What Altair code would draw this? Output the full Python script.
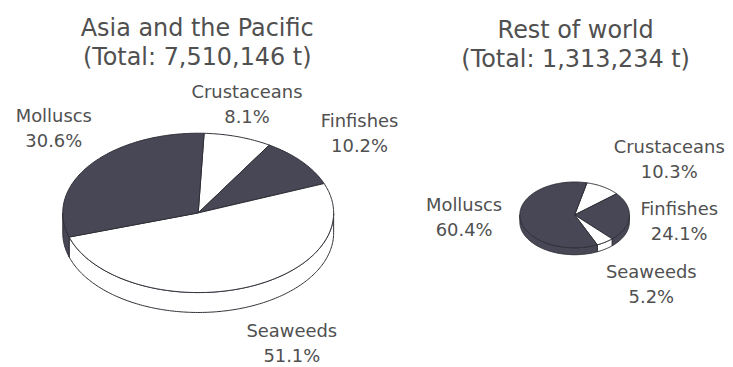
import math
import altair as alt
import pandas as pd

# ---------------- data ----------------
regions = ["Asia and the Pacific", "Rest of world"]
totals = ["7,510,146", "1,313,234"]
categories = ["Crustaceans", "Finfishes", "Seaweeds", "Molluscs"]
asia_pct = [8.1, 10.2, 51.1, 30.6]
rest_pct = [10.3, 24.1, 5.2, 60.4]
percents = [asia_pct, rest_pct]

# ---------------- style / layout ----------------
DARK = "#474756"
LIGHT = "#ffffff"
cat_fill = {"Crustaceans": LIGHT, "Finfishes": DARK, "Seaweeds": LIGHT, "Molluscs": DARK}
TEXT = "#505050"
FONT = "DejaVu Sans"

# pie geometry per region: centre, radii, depth, start angle (deg, clockwise from 12 o'clock)
geom = [
    dict(cx=199, cy=213, rx=136, ry=80, depth=20, start=2.5),
    dict(cx=577, cy=215, rx=55, ry=33, depth=7, start=13),
]
# title anchors (centre x, first-line y)
title_pos = [(198, 28), (578, 30)]
# label anchors relative to pie centre (dx, dy of first line)
label_off = [
    {"Crustaceans": (49, -120), "Finfishes": (162, -91), "Seaweeds": (94, 120), "Molluscs": (-145, -96)},
    {"Crustaceans": (95, -67), "Finfishes": (105, -5), "Seaweeds": (77, 58), "Molluscs": (-111, -9)},
]
LINE_GAP = 25

# ---------------- build polygons from the percentages ----------------
def pt(g, t_deg, dy=0.0):
    t = math.radians(t_deg)
    return g["cx"] + g["rx"] * math.sin(t), g["cy"] - g["ry"] * math.cos(t) + dy

top_rows, side_rows, text_rows = [], [], []
for r, (name, total, pcts, g) in enumerate(zip(regions, totals, percents, geom)):
    a0 = g["start"]
    for cat, p in zip(categories, pcts):
        a1 = a0 + p * 3.6
        fill = cat_fill[cat]
        key = f"{r}-{cat}"
        # top face
        pts = [(g["cx"], g["cy"])]
        n = max(2, int(abs(a1 - a0)))
        for i in range(n + 1):
            pts.append(pt(g, a0 + (a1 - a0) * i / n))
        pts.append((g["cx"], g["cy"]))
        for i, (x, y) in enumerate(pts):
            top_rows.append(dict(key=key, o=i, x=x, y=y, fill=fill))
        # side wall (visible where the rim faces the viewer: 90..270 deg, mod 360)
        for shift in (0, 360):
            s0 = max(a0, 90 + shift)
            s1 = min(a1, 270 + shift)
            if s1 > s0:
                m = max(2, int(s1 - s0))
                upper = [pt(g, s0 + (s1 - s0) * i / m) for i in range(m + 1)]
                lower = [pt(g, s0 + (s1 - s0) * i / m, g["depth"]) for i in range(m + 1)][::-1]
                poly = upper + lower + [upper[0]]
                for i, (x, y) in enumerate(poly):
                    side_rows.append(dict(key=f"{key}-{shift}", o=i, x=x, y=y, fill=fill))
        # label
        dx, dy = label_off[r][cat]
        text_rows.append(dict(x=g["cx"] + dx, y=g["cy"] + dy, text=cat, size=18))
        text_rows.append(dict(x=g["cx"] + dx, y=g["cy"] + dy + LINE_GAP, text=f"{p}%", size=18))
        a0 = a1
    tx, ty = title_pos[r]
    text_rows.append(dict(x=tx, y=ty, text=name, size=24))
    text_rows.append(dict(x=tx, y=ty + 29, text=f"(Total: {total} t)", size=24))

top_df = pd.DataFrame(top_rows)
side_df = pd.DataFrame(side_rows)
text_df = pd.DataFrame(text_rows)

W, H = 717, 351
xs = alt.Scale(domain=[8, 8 + W])
ys = alt.Scale(domain=[8, 8 + H], reverse=True)
X = alt.X("x:Q", scale=xs, axis=None)
Y = alt.Y("y:Q", scale=ys, axis=None)

side = alt.Chart(side_df).mark_line(filled=True, stroke="#2e2e36", strokeWidth=1, strokeJoin="round").encode(
    x=X, y=Y, detail="key:N", order="o:Q", color=alt.Color("fill:N", scale=None)
)
top = alt.Chart(top_df).mark_line(filled=True, stroke="#2e2e36", strokeWidth=1, strokeJoin="round").encode(
    x=X, y=Y, detail="key:N", order="o:Q", color=alt.Color("fill:N", scale=None)
)
labels = alt.Chart(text_df).mark_text(font=FONT, color=TEXT, baseline="middle", align="center").encode(
    x=X, y=Y, text="text:N", size=alt.Size("size:Q", scale=None)
)

chart = (
    alt.layer(side, top, labels)
    .properties(width=W, height=H, padding=0, background="#ffffff")
    .configure_view(stroke=None)
)
chart.save("out.html", embed_options={"renderer": "svg", "actions": False})
